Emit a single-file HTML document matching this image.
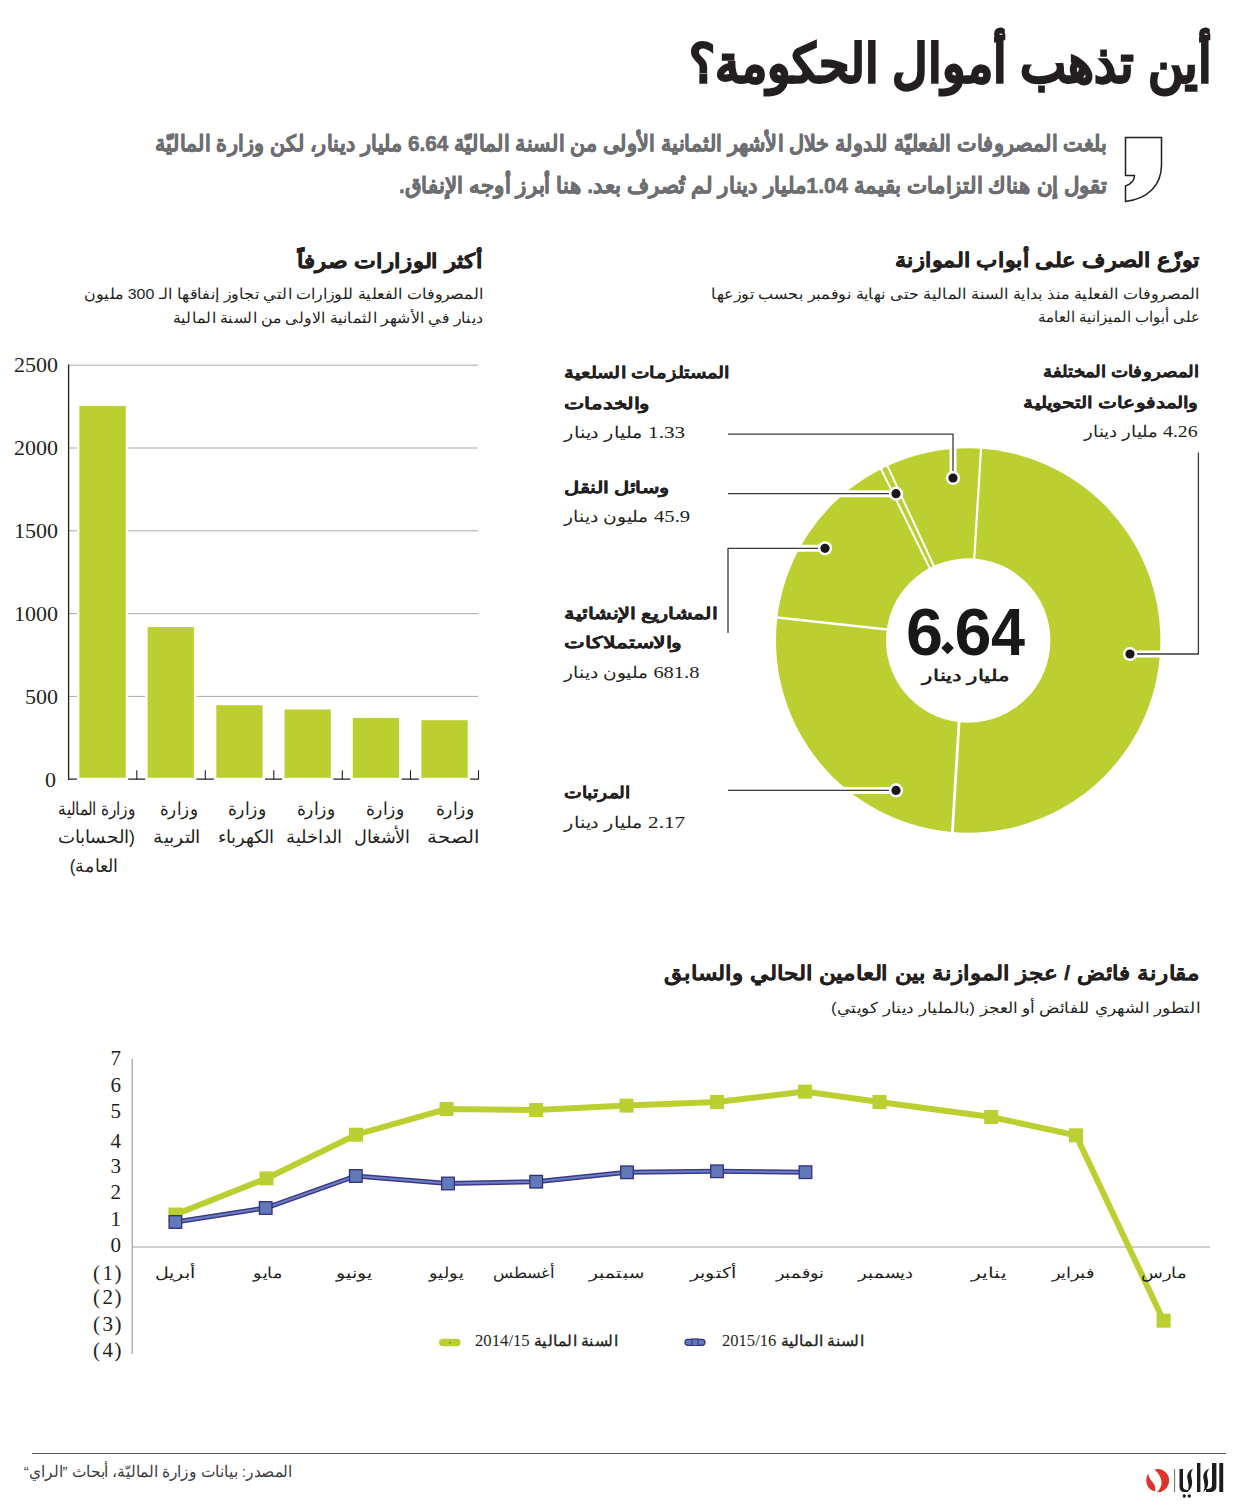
<!DOCTYPE html>
<html><head><meta charset="utf-8"><style>
html,body{margin:0;padding:0;background:#fff;width:1260px;height:1512px;overflow:hidden;}
body{position:relative;font-family:"Liberation Sans",sans-serif;}
.t{position:absolute;white-space:nowrap;line-height:1;direction:rtl;}
.t span{display:inline-block;}
.sn{font-family:"Liberation Sans",sans-serif;}
.sr{font-family:"Liberation Serif",serif;font-weight:normal;font-size:1.1em;-webkit-text-stroke:0;}
.y{position:absolute;white-space:nowrap;line-height:1;font-family:"Liberation Serif",serif;color:#231f20;}
svg{position:absolute;left:0;top:0;}
.big{position:absolute;top:599px;font-family:"Liberation Sans",sans-serif;font-weight:bold;font-size:66.5px;line-height:1;color:#1a1718;}
</style></head><body>
<svg width="1260" height="1512" viewBox="0 0 1260 1512">
<path d="M1125.5,137.5 L1161.5,137.5 L1161.5,165 C1161.5,185 1148,199 1125.5,201.5 L1125.5,186 C1131,184 1134.5,180 1134.5,175.5 L1125.5,175.5 Z" fill="none" stroke="#231f20" stroke-width="1.5"/>
<line x1="68.6" y1="365.2" x2="478" y2="365.2" stroke="#a7a9ac" stroke-width="1"/><line x1="68.6" y1="448.0" x2="478" y2="448.0" stroke="#a7a9ac" stroke-width="1"/><line x1="68.6" y1="530.8" x2="478" y2="530.8" stroke="#a7a9ac" stroke-width="1"/><line x1="68.6" y1="613.6" x2="478" y2="613.6" stroke="#a7a9ac" stroke-width="1"/><line x1="68.6" y1="696.4" x2="478" y2="696.4" stroke="#a7a9ac" stroke-width="1"/><line x1="68.6" y1="779.2" x2="479" y2="779.2" stroke="#231f20" stroke-width="1.2"/><line x1="136.8" y1="770.2" x2="136.8" y2="779.2" stroke="#231f20" stroke-width="1.1"/><line x1="205.3" y1="770.2" x2="205.3" y2="779.2" stroke="#231f20" stroke-width="1.1"/><line x1="273.8" y1="770.2" x2="273.8" y2="779.2" stroke="#231f20" stroke-width="1.1"/><line x1="342.3" y1="770.2" x2="342.3" y2="779.2" stroke="#231f20" stroke-width="1.1"/><line x1="410.5" y1="770.2" x2="410.5" y2="779.2" stroke="#231f20" stroke-width="1.1"/><line x1="478.5" y1="770.2" x2="478.5" y2="779.2" stroke="#231f20" stroke-width="1.1"/><line x1="68.6" y1="364.6" x2="68.6" y2="779.8000000000001" stroke="#231f20" stroke-width="1.3"/><rect x="76.9" y="403.4" width="51.3" height="377.30000000000007" fill="#fff"/><rect x="79.4" y="405.9" width="46.3" height="371.9" fill="#bccf31"/><rect x="145.1" y="624.5" width="51.3" height="156.20000000000005" fill="#fff"/><rect x="147.6" y="627" width="46.3" height="150.79999999999995" fill="#bccf31"/><rect x="213.8" y="702.7" width="51.3" height="78.0" fill="#fff"/><rect x="216.3" y="705.2" width="46.3" height="72.59999999999991" fill="#bccf31"/><rect x="282.0" y="707.0" width="51.3" height="73.70000000000005" fill="#fff"/><rect x="284.5" y="709.5" width="46.3" height="68.29999999999995" fill="#bccf31"/><rect x="350.3" y="715.4" width="51.3" height="65.30000000000007" fill="#fff"/><rect x="352.8" y="717.9" width="46.3" height="59.89999999999998" fill="#bccf31"/><rect x="418.9" y="717.7" width="51.3" height="63.0" fill="#fff"/><rect x="421.4" y="720.2" width="46.3" height="57.59999999999991" fill="#bccf31"/>
<path d="M776.0,640.5 A192.2,192.2 0 1 1 1160.4,640.5 A192.2,192.2 0 1 1 776.0,640.5 Z M886.0,640.5 A82.2,82.2 0 1 0 1050.4,640.5 A82.2,82.2 0 1 0 886.0,640.5 Z" fill="#bccf31" fill-rule="evenodd"/><line x1="981.18" y1="446.01" x2="974.12" y2="560.59" stroke="#fff" stroke-width="2.2"/><line x1="880.18" y1="467.31" x2="930.82" y2="570.39" stroke="#fff" stroke-width="2.0"/><line x1="886.64" y1="464.18" x2="934.76" y2="568.02" stroke="#fff" stroke-width="2.0"/><line x1="775.02" y1="617.17" x2="889.68" y2="629.83" stroke="#fff" stroke-width="2.6"/><line x1="952.22" y1="834.99" x2="959.18" y2="720.01" stroke="#fff" stroke-width="2.8"/><polyline points="1198.4,452.6 1198.4,654.0 1130.0,654.0" fill="none" stroke="#fff" stroke-width="7"/><polyline points="728.0,434.2 953.0,434.2 953.0,478.0" fill="none" stroke="#fff" stroke-width="7"/><polyline points="728.0,493.7 896.0,493.7" fill="none" stroke="#fff" stroke-width="7"/><polyline points="728.0,633.0 728.0,548.3 825.0,548.3" fill="none" stroke="#fff" stroke-width="7"/><polyline points="728.0,790.4 896.0,790.4" fill="none" stroke="#fff" stroke-width="7"/><polyline points="1198.4,452.6 1198.4,654.0 1130.0,654.0" fill="none" stroke="#3a3a3c" stroke-width="1.3"/><polyline points="728.0,434.2 953.0,434.2 953.0,478.0" fill="none" stroke="#3a3a3c" stroke-width="1.3"/><polyline points="728.0,493.7 896.0,493.7" fill="none" stroke="#3a3a3c" stroke-width="1.3"/><polyline points="728.0,633.0 728.0,548.3 825.0,548.3" fill="none" stroke="#3a3a3c" stroke-width="1.3"/><polyline points="728.0,790.4 896.0,790.4" fill="none" stroke="#3a3a3c" stroke-width="1.3"/><circle cx="1130" cy="654" r="7.1" fill="#fff"/><circle cx="1130" cy="654" r="4.6" fill="#1a1718"/><circle cx="953" cy="478" r="7.1" fill="#fff"/><circle cx="953" cy="478" r="4.6" fill="#1a1718"/><circle cx="896" cy="493.7" r="7.1" fill="#fff"/><circle cx="896" cy="493.7" r="4.6" fill="#1a1718"/><circle cx="825" cy="548.3" r="7.1" fill="#fff"/><circle cx="825" cy="548.3" r="4.6" fill="#1a1718"/><circle cx="896" cy="790.4" r="7.1" fill="#fff"/><circle cx="896" cy="790.4" r="4.6" fill="#1a1718"/>
<line x1="132.2" y1="1059" x2="132.2" y2="1354" stroke="#a39e9c" stroke-width="1.2"/><line x1="132" y1="1247" x2="1210" y2="1247" stroke="#a39e9c" stroke-width="1.2"/><polyline points="175.4,1214.5 266.5,1178.4 356,1134.7 446.5,1109 536.2,1110 626.5,1105.6 717,1102 805,1091.6 879.5,1102 991.2,1117 1076,1135.3 1163.6,1320.7" fill="none" stroke="#bccf31" stroke-width="6" stroke-linejoin="miter"/><rect x="168.4" y="1207.5" width="14" height="14" fill="#bccf31"/><rect x="259.5" y="1171.4" width="14" height="14" fill="#bccf31"/><rect x="349" y="1127.7" width="14" height="14" fill="#bccf31"/><rect x="439.5" y="1102" width="14" height="14" fill="#bccf31"/><rect x="529.2" y="1103" width="14" height="14" fill="#bccf31"/><rect x="619.5" y="1098.6" width="14" height="14" fill="#bccf31"/><rect x="710" y="1095" width="14" height="14" fill="#bccf31"/><rect x="798" y="1084.6" width="14" height="14" fill="#bccf31"/><rect x="872.5" y="1095" width="14" height="14" fill="#bccf31"/><rect x="984.2" y="1110" width="14" height="14" fill="#bccf31"/><rect x="1069" y="1128.3" width="14" height="14" fill="#bccf31"/><rect x="1156.6" y="1313.7" width="14" height="14" fill="#bccf31"/><polyline points="175.4,1222 265.7,1208 355.8,1176 448,1183.5 536.2,1181.7 627,1172.3 717,1171.3 805.5,1172.2" fill="none" stroke="#3b3888" stroke-width="5"/><polyline points="175.4,1222 265.7,1208 355.8,1176 448,1183.5 536.2,1181.7 627,1172.3 717,1171.3 805.5,1172.2" fill="none" stroke="#6a7fc0" stroke-width="2"/><rect x="169.1" y="1215.7" width="12.6" height="12.6" fill="#6279b9" stroke="#332f80" stroke-width="1.3"/><rect x="259.4" y="1201.7" width="12.6" height="12.6" fill="#6279b9" stroke="#332f80" stroke-width="1.3"/><rect x="349.5" y="1169.7" width="12.6" height="12.6" fill="#6279b9" stroke="#332f80" stroke-width="1.3"/><rect x="441.7" y="1177.2" width="12.6" height="12.6" fill="#6279b9" stroke="#332f80" stroke-width="1.3"/><rect x="529.9000000000001" y="1175.4" width="12.6" height="12.6" fill="#6279b9" stroke="#332f80" stroke-width="1.3"/><rect x="620.7" y="1166.0" width="12.6" height="12.6" fill="#6279b9" stroke="#332f80" stroke-width="1.3"/><rect x="710.7" y="1165.0" width="12.6" height="12.6" fill="#6279b9" stroke="#332f80" stroke-width="1.3"/><rect x="799.2" y="1165.9" width="12.6" height="12.6" fill="#6279b9" stroke="#332f80" stroke-width="1.3"/><rect x="439" y="1338.8" width="21.5" height="7.5" rx="3.7" fill="#bccf31"/><circle cx="449.7" cy="1342.5" r="1" fill="#8a9a20"/><rect x="685" y="1339.3" width="20" height="6" rx="3" fill="#6279b9" stroke="#332f80" stroke-width="1.3"/><rect x="692" y="1339" width="6" height="6.5" fill="#6279b9" stroke="#332f80" stroke-width="1"/>
<path d="M1158,1469 A11.6,11.6 0 1 1 1157,1492.2 C1163,1487 1164,1478 1154.6,1469.8 C1155.6,1469.3 1156.8,1469 1158,1469 Z" fill="#e0312b"/><path d="M1148.5,1473.5 C1145.5,1477 1145.5,1484 1149,1488 C1150.8,1490 1152.8,1491 1155,1491.3 C1156,1488 1155,1485 1152.5,1482 C1150,1479 1148.5,1477 1148.5,1473.5 Z" fill="#e0312b"/><line x1="1174.6" y1="1469" x2="1174.6" y2="1492" stroke="#555" stroke-width="0.9"/><rect x="1219.3" y="1463" width="3.9" height="29" fill="#1e1b1c"/><path d="M1212,1463 L1216.4,1463 L1216.4,1486 C1216.4,1490 1214,1492 1209,1492 L1206,1492 L1206,1489 C1210,1489 1212,1488 1212,1485 Z" fill="#1e1b1c"/><path d="M1209.5,1468.5 C1205,1470 1202.5,1474 1203.5,1479 C1204.5,1484 1205.5,1488 1203,1492 C1208,1489 1209,1484 1207.5,1478 C1206.5,1474 1207,1471 1209.5,1468.5 Z" fill="#1e1b1c"/><rect x="1197" y="1463" width="3.4" height="29" fill="#1e1b1c"/><path d="M1193.3,1468.5 C1189,1470 1186.5,1474 1187.5,1479 C1188.5,1484 1189.5,1488 1187,1492 C1192,1489 1193,1484 1191.5,1478 C1190.5,1474 1191,1471 1193.3,1468.5 Z" fill="#1e1b1c"/><path d="M1179.5,1469 L1183,1469 L1183,1486 C1183,1489 1185,1490 1188,1490 L1188,1492 L1185,1492 C1181,1492 1179.5,1490 1179.5,1486 Z" fill="#1e1b1c"/><circle cx="1184.3" cy="1496" r="1.7" fill="#1e1b1c"/><circle cx="1189.3" cy="1496" r="1.7" fill="#1e1b1c"/>
<polygon points="947.6,641.6 953.9,647.9 947.6,654.2 941.3,647.9" fill="#1a1718"/>
<line x1="32" y1="1453.5" x2="1226" y2="1453.5" stroke="#58595b" stroke-width="1.2"/>
</svg>
<div class="t" id="title" style="top:37.14px;font-size:53px;color:#231f20;font-weight:bold;-webkit-text-stroke:1.7px #231f20;right:48.00px;transform-origin:100% 50%;transform:scaleX(0.9234);"><span>أين تذهب أموال الحكومة؟</span></div>
<div class="t" id="sub1" style="top:133.08px;font-size:22px;color:#6d6e71;font-weight:bold;-webkit-text-stroke:0.6px #6d6e71;right:153.00px;transform-origin:100% 50%;transform:scaleX(0.9415);"><span>بلغت المصروفات الفعليّة للدولة خلال الأشهر الثمانية الأولى من السنة الماليّة <span class="sn">6.64</span> مليار دينار، لكن وزارة الماليّة</span></div>
<div class="t" id="sub2" style="top:174.88px;font-size:22px;color:#6d6e71;font-weight:bold;-webkit-text-stroke:0.6px #6d6e71;right:153.00px;transform-origin:100% 50%;transform:scaleX(0.9671);"><span>تقول إن هناك التزامات بقيمة <span class="sn">1.04</span>مليار دينار لم تُصرف بعد. هنا أبرز أوجه الإنفاق.</span></div>
<div class="t" id="h1" style="top:250.99px;font-size:19.5px;color:#231f20;font-weight:bold;-webkit-text-stroke:0.5px #231f20;right:60.00px;transform-origin:100% 50%;transform:scaleX(1.1259);"><span>توزّع الصرف على أبواب الموازنة</span></div>
<div class="t" id="h1s1" style="top:286.30px;font-size:15px;color:#231f20;font-weight:normal;right:60.00px;transform-origin:100% 50%;transform:scaleX(1.0644);"><span>المصروفات الفعلية منذ بداية السنة المالية حتى نهاية نوفمبر بحسب توزعها</span></div>
<div class="t" id="h1s2" style="top:308.80px;font-size:15px;color:#231f20;font-weight:normal;right:60.00px;transform-origin:100% 50%;transform:scaleX(0.9919);"><span>على أبواب الميزانية العامة</span></div>
<div class="t" id="h2" style="top:252.49px;font-size:19.5px;color:#231f20;font-weight:bold;-webkit-text-stroke:0.5px #231f20;right:777.00px;transform-origin:100% 50%;transform:scaleX(1.1563);"><span>أكثر الوزارات صرفاً</span></div>
<div class="t" id="h2s1" style="top:286.30px;font-size:15px;color:#231f20;font-weight:normal;right:777.00px;transform-origin:100% 50%;transform:scaleX(1.0610);"><span>المصروفات الفعلية للوزارات التي تجاوز إنفاقها الـ 300 مليون</span></div>
<div class="t" id="h2s2" style="top:309.80px;font-size:15px;color:#231f20;font-weight:normal;right:777.00px;transform-origin:100% 50%;transform:scaleX(1.0481);"><span>دينار في الأشهر الثمانية الاولى من السنة المالية</span></div>
<div class="t" id="d1a" style="top:363.29px;font-size:16.2px;color:#231f20;font-weight:bold;-webkit-text-stroke:0.2px #231f20;right:62.00px;transform-origin:100% 50%;transform:scaleX(1.1407);"><span>المصروفات المختلفة</span></div>
<div class="t" id="d1b" style="top:393.89px;font-size:16.2px;color:#231f20;font-weight:bold;-webkit-text-stroke:0.2px #231f20;right:62.00px;transform-origin:100% 50%;transform:scaleX(1.2555);"><span>والمدفوعات التحويلية</span></div>
<div class="t" id="d1c" style="top:422.86px;font-size:16px;color:#231f20;font-weight:normal;right:62.00px;transform-origin:100% 50%;transform:scaleX(1.1277);"><span><span class="sr">4.26</span> مليار دينار</span></div>
<div class="t" id="d2a" style="top:363.79px;font-size:16.2px;color:#231f20;font-weight:bold;-webkit-text-stroke:0.2px #231f20;left:563.50px;transform-origin:0 50%;transform:scaleX(1.2294);"><span>المستلزمات السلعية</span></div>
<div class="t" id="d2b" style="top:395.29px;font-size:16.2px;color:#231f20;font-weight:bold;-webkit-text-stroke:0.2px #231f20;left:563.50px;transform-origin:0 50%;transform:scaleX(1.3470);"><span>والخدمات</span></div>
<div class="t" id="d2c" style="top:423.96px;font-size:16px;color:#231f20;font-weight:normal;left:563.50px;transform-origin:0 50%;transform:scaleX(1.2030);"><span><span class="sr">1.33</span> مليار دينار</span></div>
<div class="t" id="d3a" style="top:478.79px;font-size:16.2px;color:#231f20;font-weight:bold;-webkit-text-stroke:0.2px #231f20;left:563.50px;transform-origin:0 50%;transform:scaleX(1.3081);"><span>وسائل النقل</span></div>
<div class="t" id="d3b" style="top:508.16px;font-size:16px;color:#231f20;font-weight:normal;left:563.50px;transform-origin:0 50%;transform:scaleX(1.1714);"><span><span class="sr">45.9</span> مليون دينار</span></div>
<div class="t" id="d4a" style="top:604.69px;font-size:16.2px;color:#231f20;font-weight:bold;-webkit-text-stroke:0.2px #231f20;left:563.50px;transform-origin:0 50%;transform:scaleX(1.3131);"><span>المشاريع الإنشائية</span></div>
<div class="t" id="d4b" style="top:634.29px;font-size:16.2px;color:#231f20;font-weight:bold;-webkit-text-stroke:0.2px #231f20;left:563.50px;transform-origin:0 50%;transform:scaleX(1.3751);"><span>والاستملاكات</span></div>
<div class="t" id="d4c" style="top:664.46px;font-size:16px;color:#231f20;font-weight:normal;left:563.50px;transform-origin:0 50%;transform:scaleX(1.1624);"><span><span class="sr">681.8</span> مليون دينار</span></div>
<div class="t" id="d5a" style="top:784.29px;font-size:16.2px;color:#231f20;font-weight:bold;-webkit-text-stroke:0.2px #231f20;left:563.50px;transform-origin:0 50%;transform:scaleX(1.1739);"><span>المرتبات</span></div>
<div class="t" id="d5b" style="top:814.16px;font-size:16px;color:#231f20;font-weight:normal;left:563.50px;transform-origin:0 50%;transform:scaleX(1.2030);"><span><span class="sr">2.17</span> مليار دينار</span></div>
<div class="t" id="dc2" style="top:668.46px;font-size:16px;color:#231f20;font-weight:bold;left:965.70px;transform-origin:0 50%;transform:scaleX(1.3420) translateX(-50%);"><span>مليار دينار</span></div>
<div class="t" id="bx1a" style="top:801.39px;font-size:17.5px;color:#231f20;font-weight:normal;right:1123.80px;transform-origin:100% 50%;transform:scaleX(0.8539);"><span>وزارة المالية</span></div>
<div class="t" id="bx1b" style="top:828.99px;font-size:17.5px;color:#231f20;font-weight:normal;right:1125.00px;transform-origin:100% 50%;transform:scaleX(1.0135);"><span>(الحسابات</span></div>
<div class="t" id="bx1c" style="top:857.59px;font-size:17.5px;color:#231f20;font-weight:normal;right:1142.00px;transform-origin:100% 50%;transform:scaleX(0.9628);"><span>العامة)</span></div>
<div class="t" id="bx2a" style="top:801.39px;font-size:17.5px;color:#231f20;font-weight:normal;left:179.00px;transform-origin:0 50%;transform:scaleX(0.9231) translateX(-50%);"><span>وزارة</span></div>
<div class="t" id="bx2b" style="top:828.99px;font-size:17.5px;color:#231f20;font-weight:normal;left:176.60px;transform-origin:0 50%;transform:scaleX(1.0451) translateX(-50%);"><span>التربية</span></div>
<div class="t" id="bx3a" style="top:801.39px;font-size:17.5px;color:#231f20;font-weight:normal;left:247.20px;transform-origin:0 50%;transform:scaleX(0.9508) translateX(-50%);"><span>وزارة</span></div>
<div class="t" id="bx3b" style="top:828.99px;font-size:17.5px;color:#231f20;font-weight:normal;left:246.00px;transform-origin:0 50%;transform:scaleX(1.0000) translateX(-50%);"><span>الكهرباء</span></div>
<div class="t" id="bx4a" style="top:801.39px;font-size:17.5px;color:#231f20;font-weight:normal;left:316.40px;transform-origin:0 50%;transform:scaleX(0.9508) translateX(-50%);"><span>وزارة</span></div>
<div class="t" id="bx4b" style="top:828.99px;font-size:17.5px;color:#231f20;font-weight:normal;left:314.00px;transform-origin:0 50%;transform:scaleX(1.0000) translateX(-50%);"><span>الداخلية</span></div>
<div class="t" id="bx5a" style="top:801.39px;font-size:17.5px;color:#231f20;font-weight:normal;left:384.60px;transform-origin:0 50%;transform:scaleX(0.9508) translateX(-50%);"><span>وزارة</span></div>
<div class="t" id="bx5b" style="top:828.99px;font-size:17.5px;color:#231f20;font-weight:normal;left:382.00px;transform-origin:0 50%;transform:scaleX(0.9818) translateX(-50%);"><span>الأشغال</span></div>
<div class="t" id="bx6a" style="top:801.39px;font-size:17.5px;color:#231f20;font-weight:normal;left:455.10px;transform-origin:0 50%;transform:scaleX(0.9508) translateX(-50%);"><span>وزارة</span></div>
<div class="t" id="bx6b" style="top:828.99px;font-size:17.5px;color:#231f20;font-weight:normal;left:453.40px;transform-origin:0 50%;transform:scaleX(1.0870) translateX(-50%);"><span>الصحة</span></div>
<div class="t" id="l1" style="top:963.99px;font-size:19.5px;color:#231f20;font-weight:bold;-webkit-text-stroke:0.25px #231f20;right:60.00px;transform-origin:100% 50%;transform:scaleX(1.1577);"><span>مقارنة فائض / عجز الموازنة بين العامين الحالي والسابق</span></div>
<div class="t" id="l1s" style="top:1000.30px;font-size:15px;color:#231f20;font-weight:normal;right:60.00px;transform-origin:100% 50%;transform:scaleX(1.1217);"><span>التطور الشهري للفائض أو العجز (بالمليار دينار كويتي)</span></div>
<div class="t" id="m1" style="top:1265.30px;font-size:15px;color:#231f20;font-weight:normal;left:175.00px;transform-origin:0 50%;transform:scaleX(1.2667) translateX(-50%);"><span>أبريل</span></div>
<div class="t" id="m2" style="top:1265.30px;font-size:15px;color:#231f20;font-weight:normal;left:268.00px;transform-origin:0 50%;transform:scaleX(1.1614) translateX(-50%);"><span>مايو</span></div>
<div class="t" id="m3" style="top:1265.30px;font-size:15px;color:#231f20;font-weight:normal;left:354.00px;transform-origin:0 50%;transform:scaleX(1.2693) translateX(-50%);"><span>يونيو</span></div>
<div class="t" id="m4" style="top:1265.30px;font-size:15px;color:#231f20;font-weight:normal;left:445.50px;transform-origin:0 50%;transform:scaleX(1.1613) translateX(-50%);"><span>يوليو</span></div>
<div class="t" id="m5" style="top:1265.30px;font-size:15px;color:#231f20;font-weight:normal;left:524.00px;transform-origin:0 50%;transform:scaleX(1.0909) translateX(-50%);"><span>أغسطس</span></div>
<div class="t" id="m6" style="top:1265.30px;font-size:15px;color:#231f20;font-weight:normal;left:617.00px;transform-origin:0 50%;transform:scaleX(1.2226) translateX(-50%);"><span>سبتمبر</span></div>
<div class="t" id="m7" style="top:1265.30px;font-size:15px;color:#231f20;font-weight:normal;left:712.60px;transform-origin:0 50%;transform:scaleX(1.2734) translateX(-50%);"><span>أكتوبر</span></div>
<div class="t" id="m8" style="top:1265.30px;font-size:15px;color:#231f20;font-weight:normal;left:799.50px;transform-origin:0 50%;transform:scaleX(1.1707) translateX(-50%);"><span>نوفمبر</span></div>
<div class="t" id="m9" style="top:1265.30px;font-size:15px;color:#231f20;font-weight:normal;left:886.40px;transform-origin:0 50%;transform:scaleX(1.1957) translateX(-50%);"><span>ديسمبر</span></div>
<div class="t" id="m10" style="top:1265.30px;font-size:15px;color:#231f20;font-weight:normal;left:988.80px;transform-origin:0 50%;transform:scaleX(1.3714) translateX(-50%);"><span>يناير</span></div>
<div class="t" id="m11" style="top:1265.30px;font-size:15px;color:#231f20;font-weight:normal;left:1073.00px;transform-origin:0 50%;transform:scaleX(1.1944) translateX(-50%);"><span>فبراير</span></div>
<div class="t" id="m12" style="top:1265.30px;font-size:15px;color:#231f20;font-weight:normal;left:1163.80px;transform-origin:0 50%;transform:scaleX(1.1964) translateX(-50%);"><span>مارس</span></div>
<div class="t" id="lg1" style="top:1332.53px;font-size:14.5px;color:#231f20;font-weight:normal;-webkit-text-stroke:0.35px #231f20;left:475.00px;transform-origin:0 50%;transform:scaleX(1.0472);"><span>السنة المالية <span class="sr">2014/15</span></span></div>
<div class="t" id="lg2" style="top:1332.53px;font-size:14.5px;color:#231f20;font-weight:normal;-webkit-text-stroke:0.35px #231f20;left:722.00px;transform-origin:0 50%;transform:scaleX(1.0396);"><span>السنة المالية <span class="sr">2015/16</span></span></div>
<div class="t" id="src" style="top:1464.38px;font-size:15.5px;color:#3d3d3f;font-weight:normal;right:968.00px;transform-origin:100% 50%;transform:scaleX(0.9648);"><span>المصدر: بيانات وزارة الماليّة، أبحاث ”الراي“</span></div>
<div class="y" style="right:1202px;top:354.4px;font-size:22px">2500</div>
<div class="y" style="right:1202px;top:437.4px;font-size:22px">2000</div>
<div class="y" style="right:1202px;top:520.4px;font-size:22px">1500</div>
<div class="y" style="right:1202px;top:603.3px;font-size:22px">1000</div>
<div class="y" style="right:1202px;top:686.2px;font-size:22px">500</div>
<div class="y" style="right:1204px;top:769.2px;font-size:22px">0</div>
<div class="y" style="right:1139px;top:1047.9px;font-size:21px">7</div>
<div class="y" style="right:1139px;top:1075.3px;font-size:21px">6</div>
<div class="y" style="right:1139px;top:1101.0px;font-size:21px">5</div>
<div class="y" style="right:1139px;top:1131.2px;font-size:21px">4</div>
<div class="y" style="right:1139px;top:1155.5px;font-size:21px">3</div>
<div class="y" style="right:1139px;top:1182.2px;font-size:21px">2</div>
<div class="y" style="right:1139px;top:1208.7px;font-size:21px">1</div>
<div class="y" style="right:1139px;top:1235.3px;font-size:21px">0</div>
<div class="y" style="right:1138.5px;top:1263.4px;font-size:21px">(<span style="margin:0 1.5px 0 2.5px">1</span>)</div>
<div class="y" style="right:1138.5px;top:1287.2px;font-size:21px">(<span style="margin:0 1.5px 0 2.5px">2</span>)</div>
<div class="y" style="right:1138.5px;top:1313.8px;font-size:21px">(<span style="margin:0 1.5px 0 2.5px">3</span>)</div>
<div class="y" style="right:1138.5px;top:1340.3px;font-size:21px">(<span style="margin:0 1.5px 0 2.5px">4</span>)</div>
<div class="big" style="left:906px">6</div><div class="big" style="left:954.5px">6</div><div class="big" style="left:991px;transform:scaleX(0.92);transform-origin:0 0">4</div>
</body></html>
